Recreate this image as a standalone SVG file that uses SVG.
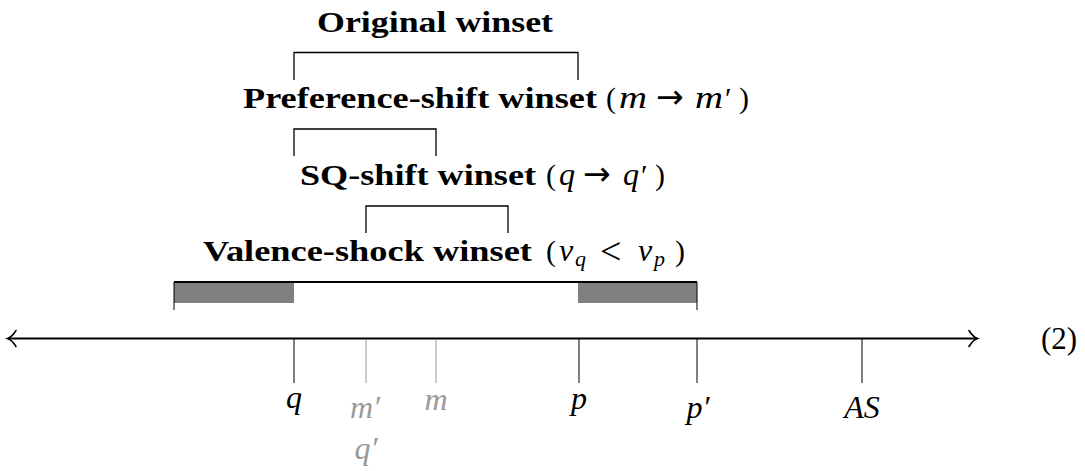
<svg xmlns="http://www.w3.org/2000/svg" width="1085" height="471" viewBox="0 0 1085 471">
<style>
  .b { font-family: "Liberation Serif", serif; font-weight: bold; font-size: 30px; fill: #000; }
  .r { font-family: "Liberation Serif", serif; font-size: 30px; fill: #000; }
  .lt { font-family: "Liberation Serif", serif; font-size: 38px; fill: #000; }
  .i { font-family: "Liberation Serif", serif; font-style: italic; font-size: 32px; }
  .s { font-family: "Liberation Serif", serif; font-style: italic; font-size: 22px; }
  .ar { font-family: "DejaVu Sans", sans-serif; font-size: 33px; }
  .br { fill: none; stroke: #000; stroke-width: 1.3; }
  .tk { stroke: #000; stroke-width: 1; }
  .tg { stroke: #999; stroke-width: 1; }
  .gray { fill: #999; }
  .blk { fill: #000; }
</style>
<rect width="1085" height="471" fill="#fff"/>
<g id="labels">
  <text class="b" x="317" y="32" textLength="236" lengthAdjust="spacingAndGlyphs">Original winset</text>
  <text y="108"><tspan class="b" x="243" textLength="354" lengthAdjust="spacingAndGlyphs">Preference-shift winset</tspan><tspan class="r" x="606">(</tspan><tspan class="i" x="619" textLength="28" lengthAdjust="spacingAndGlyphs">m</tspan><tspan class="ar" x="656">→</tspan><tspan class="i" x="695" textLength="28" lengthAdjust="spacingAndGlyphs">m</tspan><tspan class="r" x="725">′</tspan><tspan class="r" x="739">)</tspan></text>
  <text y="185"><tspan class="b" x="300" textLength="236" lengthAdjust="spacingAndGlyphs">SQ-shift winset</tspan><tspan class="r" x="546">(</tspan><tspan class="i" x="559">q</tspan><tspan class="ar" x="583">→</tspan><tspan class="i" x="623">q</tspan><tspan class="r" x="641">′</tspan><tspan class="r" x="655">)</tspan></text>
  <text y="261"><tspan class="b" x="203" textLength="329" lengthAdjust="spacingAndGlyphs">Valence-shock winset</tspan><tspan class="r" x="546">(</tspan><tspan class="i" x="559">v</tspan><tspan class="s" x="575" dy="5">q</tspan><tspan class="lt" x="600" dy="-2">&lt;</tspan><tspan class="i" x="638" dy="-3">v</tspan><tspan class="s" x="654" dy="5">p</tspan><tspan class="r" x="675" dy="-5">)</tspan></text>
  <text class="r" x="1041" y="349" style="font-size:31px">(2)</text>
</g>
<g id="brackets">
  <path class="br" d="M294,80 V52.5 H578 V80"/>
  <path class="br" d="M294,156 V129 H436 V156"/>
  <path class="br" d="M366,233 V206 H508 V233"/>
  <rect x="174" y="282" width="120" height="21" fill="#808080"/>
  <rect x="578" y="282" width="119" height="21" fill="#808080"/>
  <path fill="none" stroke="#000" stroke-width="1" d="M174,310 V282 M697,310 V282"/>
  <line x1="174" y1="282" x2="697" y2="282" stroke="#000" stroke-width="2"/>
</g>
<g id="axis">
  <line x1="8" y1="338.5" x2="977" y2="338.5" stroke="#000" stroke-width="2"/>
  <path fill="none" stroke="#000" stroke-width="1.6" stroke-linecap="round" d="M16,330.5 Q12,337 7.5,338.5 Q12,340 16,346.5"/>
  <path fill="none" stroke="#000" stroke-width="1.6" stroke-linecap="round" d="M969,330.5 Q973,337 977.5,338.5 Q973,340 969,346.5"/>
</g>
<g id="ticks">
  <line class="tk" x1="294" y1="339" x2="294" y2="383"/>
  <line class="tg" x1="366" y1="339" x2="366" y2="383"/>
  <line class="tg" x1="436" y1="339" x2="436" y2="383"/>
  <line class="tk" x1="579" y1="339" x2="579" y2="383"/>
  <line class="tk" x1="697" y1="339" x2="697" y2="383"/>
  <line class="tk" x1="862" y1="339" x2="862" y2="383"/>
</g>
<g id="tick-labels">
  <text class="i blk" x="294" y="408" text-anchor="middle">q</text>
  <text class="i gray" x="365" y="418" text-anchor="middle">m′</text>
  <text class="i gray" x="436" y="410" text-anchor="middle">m</text>
  <text class="i gray" x="366" y="459" text-anchor="middle">q′</text>
  <text class="i blk" x="579" y="409" text-anchor="middle">p</text>
  <text class="i blk" x="698" y="418" text-anchor="middle">p′</text>
  <text class="i blk" x="862" y="418" text-anchor="middle">AS</text>
</g>
</svg>
